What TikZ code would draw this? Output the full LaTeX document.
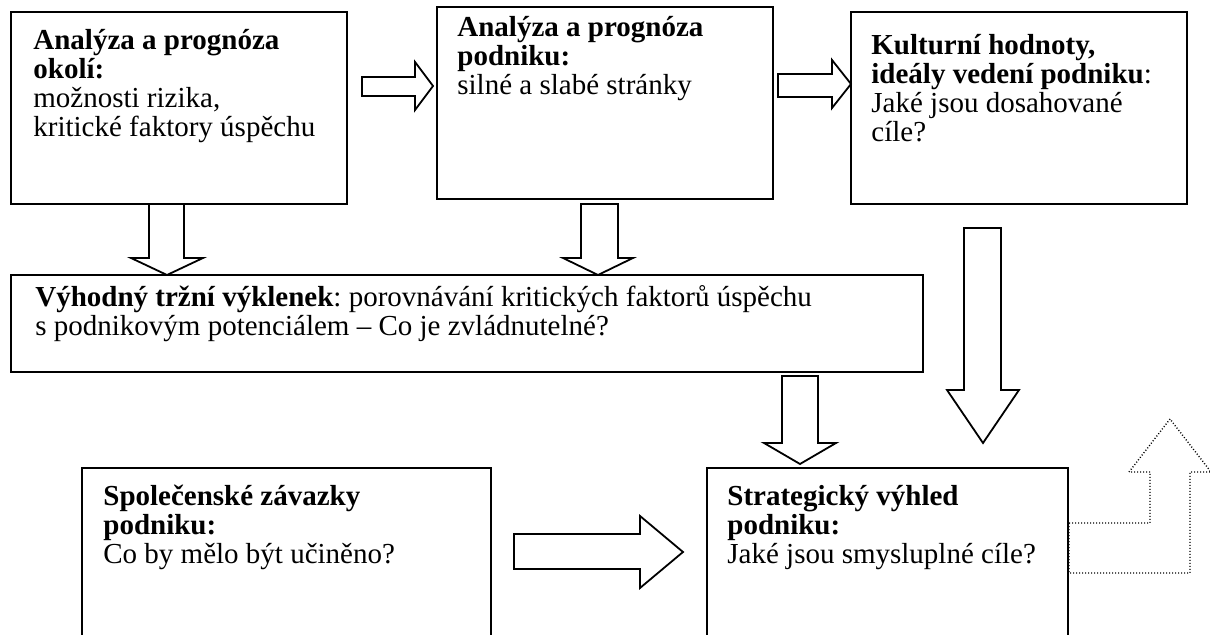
\documentclass[tikz,border=0pt]{standalone}
\usepackage{fontspec}
\setmainfont{Liberation Serif}
\usetikzlibrary{fit}

% text size and tight single line spacing used inside the boxes
\newcommand\boxfont{\fontsize{14.5}{14.4}\selectfont\frenchspacing}
% a stack of left-aligned lines whose baseline is that of the first line
\newcommand\linestack[1]{\vtop{\boxfont\baselineskip=14.4pt\lineskiplimit=-20pt\relax #1}}
\newcommand\oneline[1]{\hbox{#1}}

\begin{document}
\begin{tikzpicture}[x=0.5pt, y=-0.5pt,
  box/.style={draw=black, line width=1pt, inner sep=0pt, fill=none},
  txt/.style={anchor=base west, inner sep=0pt, font=\boxfont},
  blockarrow/.style={draw=black, line width=0.9pt, fill=white, line join=miter},
  dotarrow/.style={draw=black, line width=0.7pt, dash pattern=on 0.5pt off 1pt, fill=white}]

% canvas
\path[use as bounding box, clip] (0,0) rectangle (1210,635);

% boxes
\node[box, fit={(11,12) (347,204)}] (b1) {};
\node[box, fit={(437,7) (773,199)}] (b2) {};
\node[box, fit={(851,12) (1187,204)}] (b3) {};
\node[box, fit={(11,275) (923,372)}] (b4) {};
\node[box, fit={(82,468) (491,660)}] (b5) {};
\node[box, fit={(707,468) (1068,660)}] (b6) {};

% box texts
\node[txt] (t1) at (33,50) {\linestack{%
  \oneline{\textbf{Analýza a prognóza}}%
  \oneline{\textbf{okolí:}}%
  \oneline{možnosti rizika,}%
  \oneline{kritické faktory úspěchu}}};
\node[txt] (t2) at (457,37) {\linestack{%
  \oneline{\textbf{Analýza a prognóza}}%
  \oneline{\textbf{podniku:}}%
  \oneline{silné a slabé stránky}}};
\node[txt] (t3) at (871,55) {\linestack{%
  \oneline{\textbf{Kulturní hodnoty,}}%
  \oneline{\textbf{ideály vedení podniku}:}%
  \oneline{Jaké jsou dosahované}%
  \oneline{cíle?}}};
\node[txt] (t4) at (35,307) {\linestack{%
  \oneline{\textbf{Výhodný tržní výklenek}: porovnávání kritických faktorů úspěchu}%
  \oneline{s podnikovým potenciálem – Co je zvládnutelné?}}};
\node[txt] (t5) at (103,506) {\linestack{%
  \oneline{\textbf{Společenské závazky}}%
  \oneline{\textbf{podniku:}}%
  \oneline{Co by mělo být učiněno?}}};
\node[txt] (t6) at (727,506) {\linestack{%
  \oneline{\textbf{Strategický výhled}}%
  \oneline{\textbf{podniku:}}%
  \oneline{Jaké jsou smysluplné cíle?}}};

% block arrows: okolí -> podnik -> hodnoty
\draw[blockarrow] (362,77) -- (415,77) -- (415,62) -- (433,86) -- (415,110) -- (415,96) -- (362,96) -- cycle;
\draw[blockarrow] (778,74) -- (832,74) -- (832,60) -- (851,84) -- (832,108) -- (832,97) -- (778,97) -- cycle;

% block arrows down into the market niche box
\draw[blockarrow] (149,204) -- (149,258) -- (131,258) -- (167,275) -- (203,258) -- (184,258) -- (184,204) -- cycle;
\draw[blockarrow] (581,204) -- (581,258) -- (563,258) -- (598,275) -- (633,258) -- (618,258) -- (618,204) -- cycle;

% block arrows down into the strategic outlook box
\draw[blockarrow] (782,376) -- (782,443) -- (764,443) -- (800,464) -- (836,443) -- (818,443) -- (818,376) -- cycle;
\draw[blockarrow] (964,228) -- (964,390) -- (947,390) -- (983,443) -- (1019,390) -- (1001,390) -- (1001,228) -- cycle;

% social commitments -> strategic outlook
\draw[blockarrow] (514,534) -- (640,534) -- (640,516) -- (683,552) -- (640,588) -- (640,569) -- (514,569) -- cycle;

% dotted bent-up arrow leaving the strategic outlook box
\draw[dotarrow] (1069,523) -- (1150,523) -- (1150,472) -- (1129,472) -- (1170,419) -- (1211,472) -- (1190,472) -- (1190,573) -- (1069,573) -- cycle;
\end{tikzpicture}
\end{document}
